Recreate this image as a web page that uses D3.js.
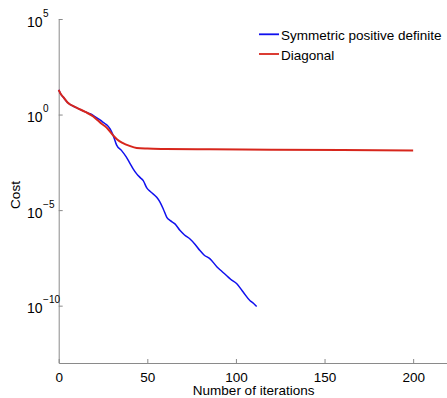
<!DOCTYPE html>
<html>
<head>
<meta charset="utf-8">
<script src="https://cdn.jsdelivr.net/npm/d3@7"></script>
<style>
  body { margin: 0; background: #fff; }
  svg text { font-family: "Liberation Sans", Arial, Helvetica, sans-serif; fill: #000; }
</style>
</head>
<body>
<svg id="chart" width="447" height="398"></svg>
<script>
// Series data (iteration, cost)
const spdIter = [0, 1, 2.6, 5, 10, 15, 17.7, 20, 23.3, 26, 27.5, 29, 30.8, 32.7, 35.5, 38, 40.2, 42, 44, 46, 47.7,
  49.7, 52, 55.3, 57, 59, 61, 63, 65.6, 68.5, 71, 74.1, 77, 79.7, 82, 85.4, 89.2, 92, 94.8, 97, 100.5, 104.2, 108, 110, 111.7];
const spdCost = [19.5, 12.6, 8.1, 4.3, 2.3, 1.38, 1.1, 0.83, 0.52, 0.34, 0.27, 0.178, 0.079, 0.025, 0.013, 6.3e-3, 2.8e-3, 1.45e-3, 7.9e-4, 5e-4, 3.5e-4,
  1.45e-4, 8.9e-5, 4.7e-5, 2.8e-5, 1.15e-5, 4.2e-6, 2.8e-6, 1.9e-6, 8.5e-7, 5e-7, 3.1e-7, 1.6e-7, 7.6e-8, 4.5e-8, 2.8e-8, 1.1e-8, 6.3e-9, 3.7e-9, 2.4e-9, 1.4e-9, 5e-10, 1.8e-10, 1.3e-10, 9.1e-11];

const diagIter = [0, 1, 2.6, 5, 10, 15, 19.5, 22, 24, 26, 28, 30, 31, 33, 36, 40, 44, 50, 60, 85, 120, 160, 200];
const diagCost = [19.5, 12.6, 8.1, 4.3, 2.3, 1.38, 0.79, 0.5, 0.34, 0.25, 0.166, 0.098, 0.076, 0.05, 0.033, 0.023, 0.018, 0.0166, 0.0158, 0.0151, 0.0145, 0.0138, 0.013];

const seriesNames = ["Symmetric positive definite", "Diagonal"];
const seriesColors = ["#1010ee", "#d7261c"];

const xTicks = [0, 50, 100, 150, 200];
const yTickExps = [5, 0, -5, -10];

const svg = d3.select("#chart");
const axisColor = "#8a8a8a";

// Scales
const x = d3.scaleLinear().domain([0, 220]).range([58.7, 448.6]);
const y = d3.scaleLog().domain([1e-13, 1e5]).range([363, 19]);

// X axis
const xAxis = svg.append("g")
  .attr("transform", `translate(0,${y(1e-13)})`)
  .call(d3.axisBottom(x).tickValues(xTicks).tickSizeInner(-4).tickSizeOuter(0).tickPadding(9));
xAxis.select(".domain").attr("stroke", axisColor);
xAxis.selectAll(".tick line").attr("stroke", axisColor);
xAxis.selectAll(".tick text").style("font-size", "13.5px").attr("fill", "#000");

// Y axis (labels drawn separately as 10 with superscript)
const yAxis = svg.append("g")
  .attr("transform", `translate(${x(0)},0)`)
  .call(d3.axisLeft(y).tickValues(yTickExps.map(e => Math.pow(10, e))).tickFormat("").tickSizeInner(-4).tickSizeOuter(0));
yAxis.select(".domain").attr("stroke", axisColor);
yAxis.selectAll(".tick line").attr("stroke", axisColor);

yTickExps.forEach(e => {
  const ty = y(Math.pow(10, e));
  const base = svg.append("text")
    .attr("x", 27).attr("y", ty + 7.5)
    .style("font-size", "14px")
    .text("10");
  const w = base.node().getComputedTextLength();
  svg.append("text")
    .attr("x", 27 + w + 0.5).attr("y", ty - 2.5)
    .style("font-size", "10px")
    .text(e < 0 ? "\u2212" + (-e) : String(e));
});

// Axis titles
svg.append("text")
  .attr("x", (x.range()[0] + x.range()[1]) / 2)
  .attr("y", 395)
  .attr("text-anchor", "middle")
  .style("font-size", "13.5px")
  .text("Number of iterations");

svg.append("text")
  .attr("transform", "translate(20,195) rotate(-90)")
  .attr("text-anchor", "middle")
  .style("font-size", "13.5px")
  .text("Cost");

// Lines
const line = d3.line()
  .x(d => x(d[0]))
  .y(d => y(d[1]))
  .curve(d3.curveMonotoneX);

const series = [
  d3.zip(spdIter, spdCost),
  d3.zip(diagIter, diagCost)
];

svg.append("path")
  .datum(series[0])
  .attr("fill", "none")
  .attr("stroke", seriesColors[0])
  .attr("stroke-width", 1.5)
  .attr("d", line);

svg.append("path")
  .datum(series[1])
  .attr("fill", "none")
  .attr("stroke", seriesColors[1])
  .attr("stroke-width", 2)
  .attr("d", line);

// Legend
const legend = svg.append("g");
seriesNames.forEach((name, i) => {
  const ly = 34.3 + i * 19.7;
  legend.append("line")
    .attr("x1", 259).attr("x2", 279)
    .attr("y1", ly).attr("y2", ly)
    .attr("stroke", seriesColors[i])
    .attr("stroke-width", 1.8);
  legend.append("text")
    .attr("x", 281).attr("y", ly + 5.5)
    .style("font-size", "13.5px")
    .text(name);
});
</script>
</body>
</html>
